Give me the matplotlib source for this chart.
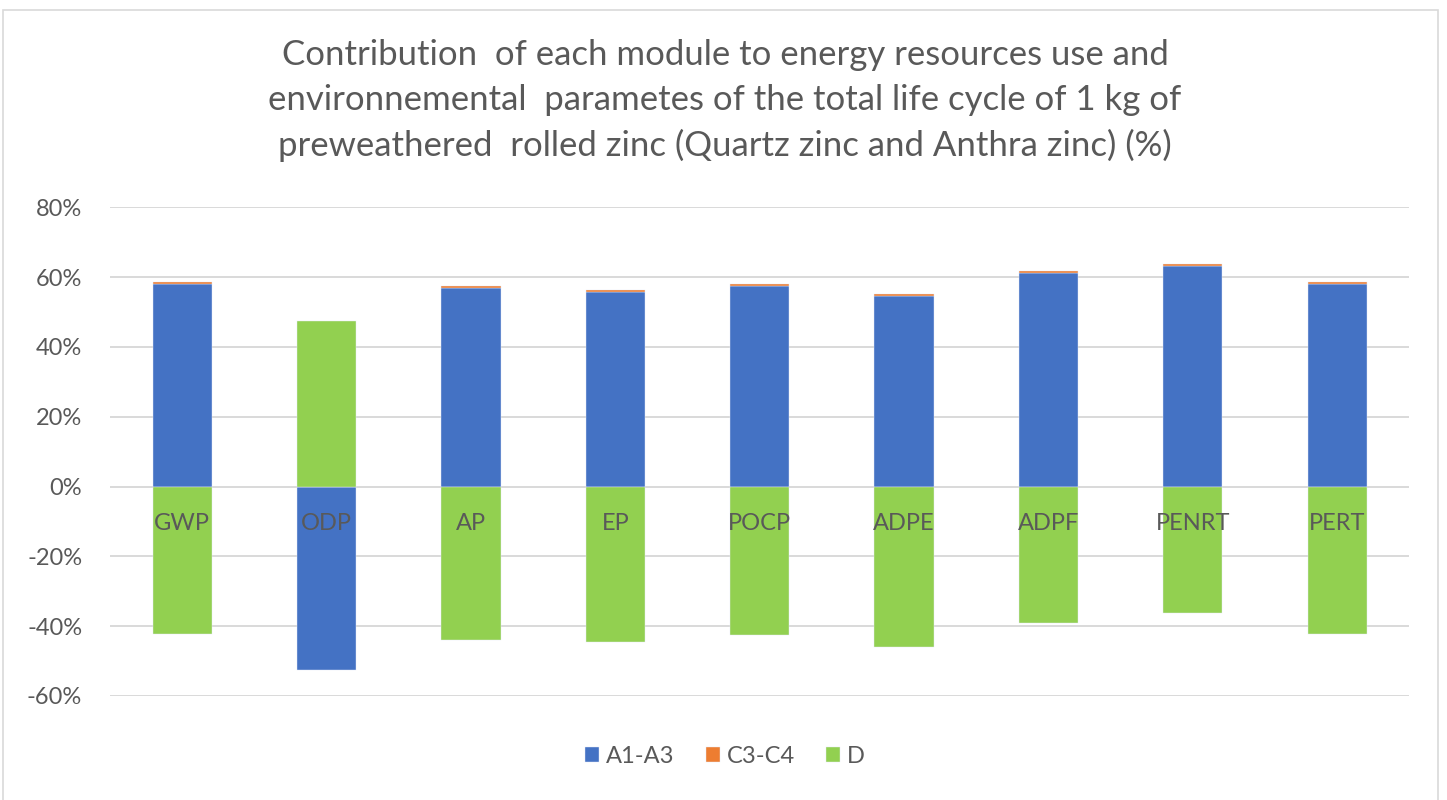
import matplotlib.pyplot as plt
import numpy as np
from matplotlib.patches import Rectangle

categories = ["GWP", "ODP", "AP", "EP", "POCP", "ADPE", "ADPF", "PENRT", "PERT"]
a1_a3 = [57.9, -52.5, 56.8, 55.6, 57.3, 54.5, 61.1, 63.1, 57.9]
c3_c4 = [0.7, 0.0, 0.6, 0.6, 0.6, 0.6, 0.6, 0.7, 0.7]
d_mod = [-42.2, 47.3, -43.9, -44.4, -42.4, -45.9, -39.0, -36.1, -42.2]
series_names = ["A1-A3", "C3-C4", "D"]
colors = ["#4472C4", "#ED7D31", "#92D050"]
yticks = [-60, -40, -20, 0, 20, 40, 60, 80]
title = ("Contribution  of each module to energy resources use and\n"
         "environnemental  parametes of the total life cycle of 1 kg of\n"
         "preweathered  rolled zinc (Quartz zinc and Anthra zinc) (%)")

plt.rcParams['font.family'] = ['Lato', 'DejaVu Sans']
fig = plt.figure(figsize=(14.47, 8.0), dpi=100)
ax = fig.add_axes([0.076, 0.13, 0.898, 0.611])

x = np.arange(len(categories))
pos_bottom = np.zeros(len(categories))
neg_bottom = np.zeros(len(categories))
handles = []
for vals, name, col in zip([a1_a3, c3_c4, d_mod], series_names, colors):
    vals = np.array(vals, dtype=float)
    bottoms = np.where(vals >= 0, pos_bottom, neg_bottom)
    h = ax.bar(x, vals, width=0.41, bottom=bottoms, color=col, label=name,
               edgecolor='#e4eaf6', linewidth=0.3, zorder=3)
    handles.append(h)
    pos_bottom = pos_bottom + np.where(vals >= 0, vals, 0)
    neg_bottom = neg_bottom + np.where(vals < 0, vals, 0)

ax.set_xlim(-0.5, len(categories) - 0.5)
ax.set_ylim(-60, 80)
ax.set_yticks(yticks)
ax.set_yticklabels([f"{t}%" for t in yticks], color='#595959', fontsize=17)
ax.set_xticks([])
ax.grid(axis='y', color='#d9d9d9', linewidth=1.4, zorder=0)
for s in ax.spines.values():
    s.set_visible(False)
ax.tick_params(axis='y', length=0, pad=20)

for xi, cat in zip(x, categories):
    ax.annotate(cat, (xi, 0), xytext=(0, -26), textcoords='offset pixels',
                ha='center', va='top', fontsize=17, color='#595959', zorder=4)

fig.text(0.501, 0.951, title, ha='center', va='top', fontsize=25,
         color='#595959', linespacing=1.48)

leg = fig.legend(handles=handles, loc='center', bbox_to_anchor=(0.501, 0.054),
                 ncol=3, frameon=False, fontsize=17, handlelength=0.6,
                 handleheight=0.6, handletextpad=0.3, columnspacing=1.3)
for t in leg.get_texts():
    t.set_color('#595959')

fig.patches.append(Rectangle((3 / 1447, -0.01), 1435 / 1447, 1.004 - 5 / 800,
                             transform=fig.transFigure, fill=False,
                             edgecolor='#d9d9d9', linewidth=1.2))

fig.savefig("out.png", dpi=100)
